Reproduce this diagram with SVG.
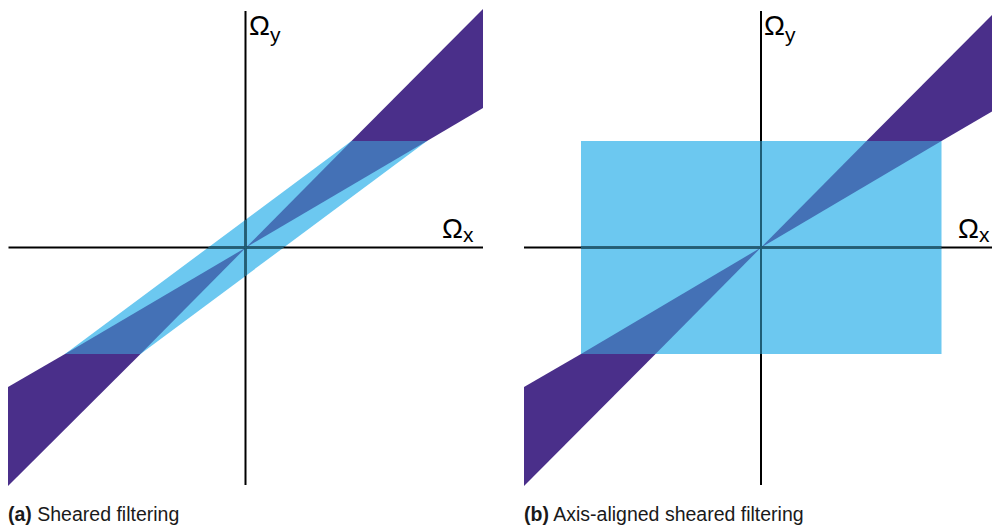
<svg xmlns="http://www.w3.org/2000/svg" width="992" height="527" viewBox="0 0 992 527">
  <style>
    .band { fill: #6CC8F0; }
    .ovl { fill: #4471B6; }
    .pur { fill: #4A2F8A; }
    .ax { stroke: #000; stroke-width: 2; fill: none; }
    .axin { stroke: #1F5E77; stroke-width: 2; fill: none; }
    .lbl { font-family: "Liberation Sans", Arial, sans-serif; fill: #000; }
    .cap { font-family: "Liberation Sans", Arial, sans-serif; font-size: 19.5px; fill: #1a1a1a; }
  </style>
  <defs>
    <clipPath id="clipA"><polygon points="65,354 140.5,354 427,141 351.5,141"/></clipPath>
    <clipPath id="clipB"><rect x="581" y="141" width="360.5" height="213"/></clipPath>
  </defs>

  <g id="panel-a">
    <polygon class="band" points="65,354 140.5,354 427,141 351.5,141"/>
    <polygon class="ovl" points="246,247.5 351.5,141 427,141"/>
    <polygon class="ovl" points="246,247.5 140.5,354 65,354"/>
    <polygon class="pur" points="351.5,141 483,9 483,108 427,141"/>
    <polygon class="pur" points="140.5,354 8,486 8,387 65,354"/>
    <g id="axes-a">
      <line class="ax" x1="245.5" y1="11" x2="245.5" y2="485"/>
      <line class="ax" x1="8.5" y1="247.5" x2="483" y2="247.5"/>
      <g clip-path="url(#clipA)">
        <line class="axin" x1="245.5" y1="11" x2="245.5" y2="485"/>
        <line class="axin" x1="8.5" y1="247.5" x2="483" y2="247.5"/>
      </g>
    </g>
    <text class="lbl" x="249" y="35" font-size="28">Ω<tspan font-size="21" dy="7">y</tspan></text>
    <text class="lbl" x="442" y="238" font-size="28">Ω<tspan font-size="21" dy="4">x</tspan></text>
    <text class="cap" x="8" y="521"><tspan font-weight="bold">(a)</tspan> Sheared filtering</text>
  </g>

  <g id="panel-b">
    <rect class="band" x="581" y="141" width="360.5" height="213"/>
    <polygon class="ovl" points="761,247.5 866.5,141 941.5,141"/>
    <polygon class="ovl" points="761,247.5 655.5,354 581,354"/>
    <polygon class="pur" points="866.5,141 992,15 992,111.5 941.5,141"/>
    <polygon class="pur" points="655.5,354 524,486 524,387 581,354"/>
    <g id="axes-b">
      <line class="ax" x1="761" y1="11" x2="761" y2="485"/>
      <line class="ax" x1="524" y1="247.5" x2="992" y2="247.5"/>
      <g clip-path="url(#clipB)">
        <line class="axin" x1="761" y1="11" x2="761" y2="485"/>
        <line class="axin" x1="524" y1="247.5" x2="992" y2="247.5"/>
      </g>
    </g>
    <text class="lbl" x="764" y="35" font-size="28">Ω<tspan font-size="21" dy="7">y</tspan></text>
    <text class="lbl" x="958" y="238" font-size="28">Ω<tspan font-size="21" dy="4">x</tspan></text>
    <text class="cap" x="524" y="521"><tspan font-weight="bold">(b)</tspan> Axis-aligned sheared filtering</text>
  </g>
</svg>
